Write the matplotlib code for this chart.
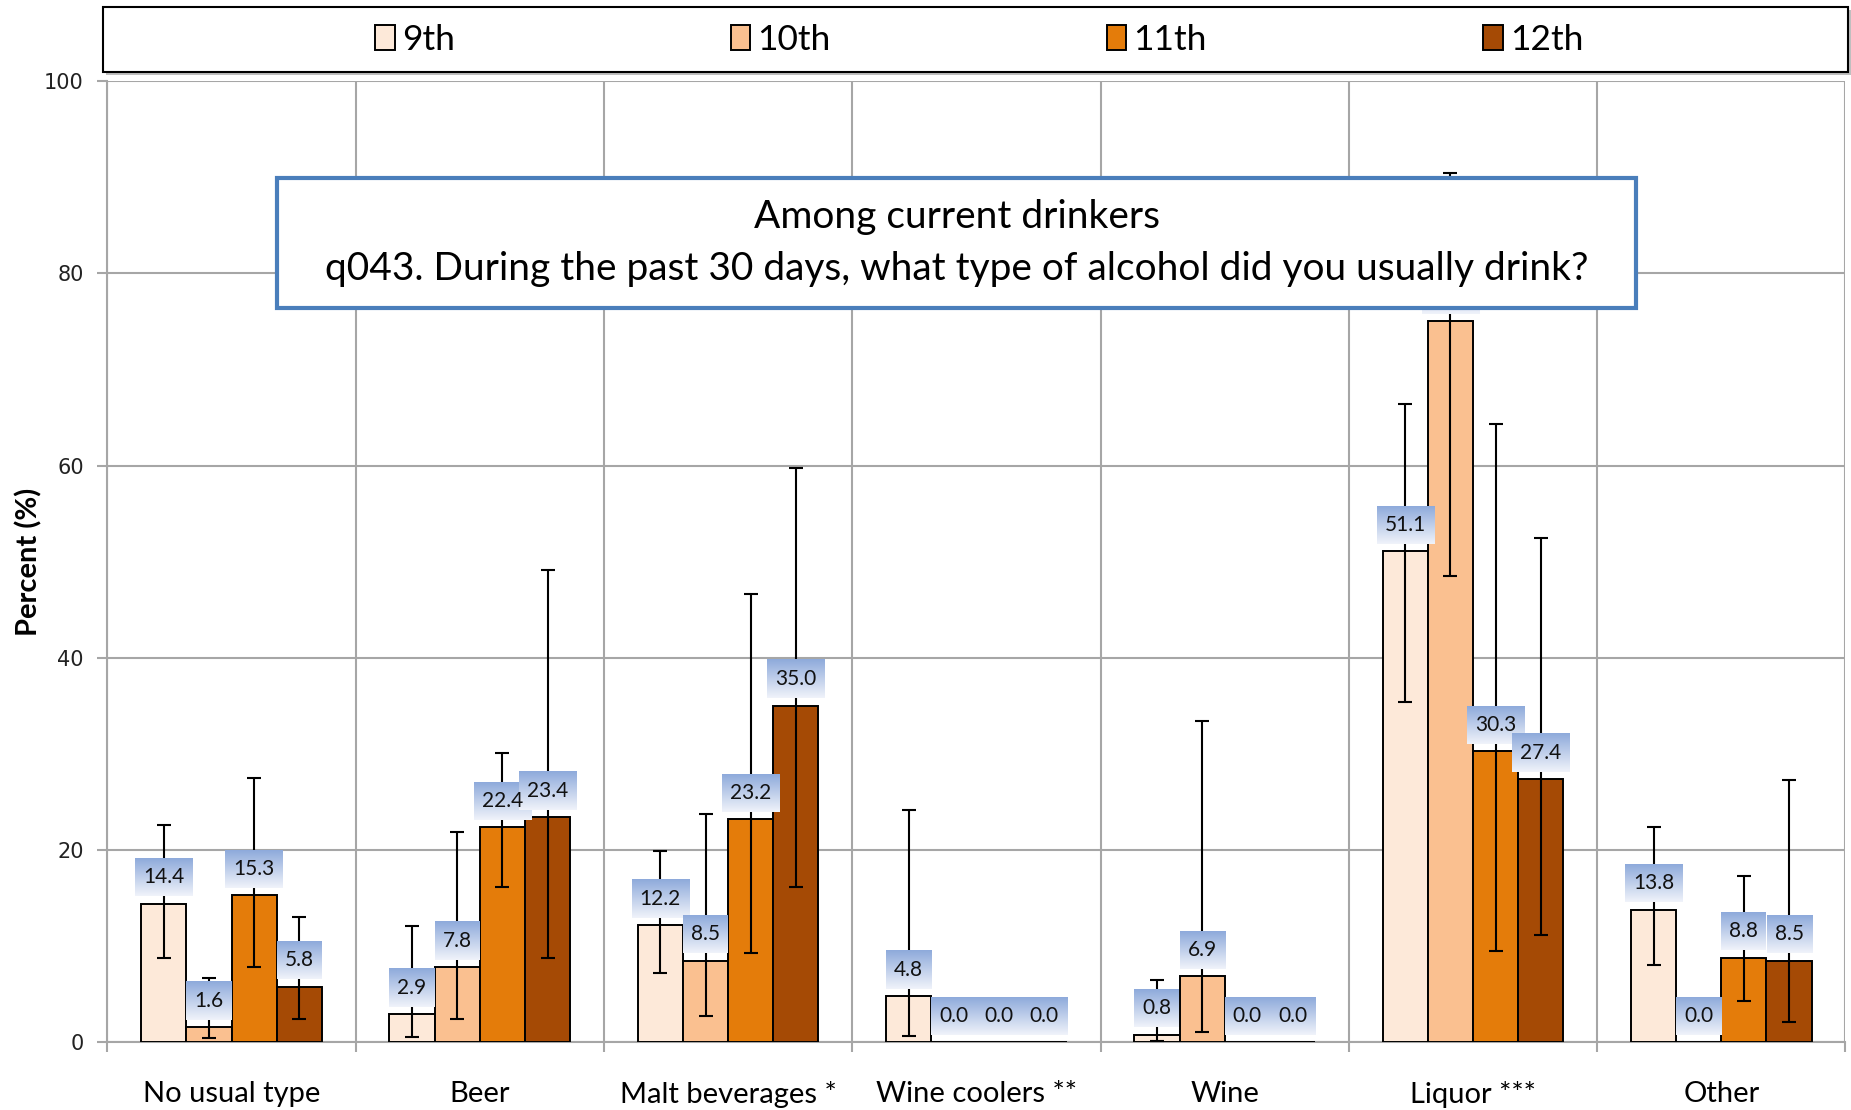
import numpy as np
import matplotlib
matplotlib.use("Agg")
import matplotlib.pyplot as plt
from matplotlib.patches import Rectangle

categories = ["No usual type", "Beer", "Malt beverages *", "Wine coolers **", "Wine", "Liquor ***", "Other"]
grades = ["9th", "10th", "11th", "12th"]

# percent per grade, one value per category
pct_9th = [14.4, 2.9, 12.2, 4.8, 0.8, 51.1, 13.8]
pct_10th = [1.6, 7.8, 8.5, 0.0, 6.9, 75.0, 0.0]
pct_11th = [15.3, 22.4, 23.2, 0.0, 0.0, 30.3, 8.8]
pct_12th = [5.8, 23.4, 35.0, 0.0, 0.0, 27.4, 8.5]

# 95% confidence limits (lower, upper)
lo_9th = [8.8, 0.6, 7.2, 0.7, 0.1, 35.4, 8.0]
hi_9th = [22.6, 12.1, 19.9, 24.2, 6.5, 66.4, 22.4]
lo_10th = [0.4, 2.4, 2.7, 0.0, 1.1, 48.5, 0.0]
hi_10th = [6.7, 21.9, 23.8, 0.0, 33.4, 90.4, 0.0]
lo_11th = [7.8, 16.2, 9.3, 0.0, 0.0, 9.5, 4.3]
hi_11th = [27.5, 30.1, 46.6, 0.0, 0.0, 64.3, 17.3]
lo_12th = [2.4, 8.8, 16.2, 0.0, 0.0, 11.2, 2.1]
hi_12th = [13.0, 49.1, 59.7, 0.0, 0.0, 52.5, 27.3]

title_lines = ["Among current drinkers",
               "q043. During the past 30 days, what type of alcohol did you usually drink?"]

colors = ["#fde9d9", "#fac090", "#e47c0a", "#a54a05"]
grid_col = "#a6a6a6"
txt_font = ["Lato", "DejaVu Sans"]

values = [pct_9th, pct_10th, pct_11th, pct_12th]
lows = [lo_9th, lo_10th, lo_11th, lo_12th]
highs = [hi_9th, hi_10th, hi_11th, hi_12th]

fig = plt.figure(figsize=(18.51, 11.10), dpi=100)
ax = fig.add_axes([0.058, 0.061, 0.939, 0.866])

x = np.arange(len(categories))
width = 0.182
handles = []
labels_txt = []
for i, (vals, lo, hi) in enumerate(zip(values, lows, highs)):
    pos = x + (i - 1.5) * width
    vals = np.array(vals)
    bars = ax.bar(pos, vals, width, color=colors[i], edgecolor="black", linewidth=1.4, zorder=3)
    handles.append(bars)
    has_ci = np.array(hi) > 0
    yerr = np.vstack([vals - np.array(lo), np.array(hi) - vals])
    ax.errorbar(pos[has_ci], vals[has_ci], yerr=yerr[:, has_ci], fmt="none", ecolor="black",
                elinewidth=1.5, capsize=5, capthick=1.5, zorder=4)
    for px, v in zip(pos, vals):
        t = ax.annotate(f"{v:.1f}", (px, v), xytext=(0, 19), textcoords="offset points",
                        ha="center", va="center", fontsize=15, family=txt_font,
                        color="#111111", zorder=6)
        labels_txt.append(t)

ax.set_xlim(-0.5, len(categories) - 0.5)
ax.set_ylim(0, 100)
ax.set_yticks([0, 20, 40, 60, 80, 100])
ax.set_xticks(x)
ax.set_xticklabels(categories, fontsize=21, family=txt_font)
ax.set_xticks(np.arange(len(categories) + 1) - 0.5, minor=True)
ax.tick_params(axis="x", which="major", length=0, pad=28)
ax.tick_params(axis="x", which="minor", length=7, width=1.5, color=grid_col)
ax.tick_params(axis="y", length=7, width=1.5, color=grid_col, pad=10, labelsize=15, labelcolor="#222222")
ax.grid(True, which="minor", axis="x", color=grid_col, linewidth=1.5, zorder=0)
ax.grid(True, which="major", axis="y", color=grid_col, linewidth=1.5, zorder=0)
ax.set_axisbelow(True)
for s in ["top", "right"]:
    ax.spines[s].set_visible(False)
for s in ["left", "bottom"]:
    ax.spines[s].set_color(grid_col)
    ax.spines[s].set_linewidth(1.5)
ax.set_ylabel("Percent (%)", fontsize=21, fontweight="bold", family=txt_font, labelpad=1)

# gradient boxes behind the value labels
fig.canvas.draw()
renderer = fig.canvas.get_renderer()
grad = np.linspace(0, 1, 64).reshape(-1, 1)
top_c = np.array([0x8e, 0xaa, 0xdb]) / 255
bot_c = np.array([0xf0, 0xf3, 0xfa]) / 255
grad_img = (top_c[None, None, :] * (1 - grad[:, :, None]) + bot_c[None, None, :] * grad[:, :, None])
inv = ax.transData.inverted()
for t in labels_txt:
    bb = t.get_window_extent(renderer)
    cx = (bb.x0 + bb.x1) / 2
    cy = (bb.y0 + bb.y1) / 2
    w = bb.width + 16
    h = 38
    (x0, y0) = inv.transform((cx - w / 2, cy - h / 2))
    (x1, y1) = inv.transform((cx + w / 2, cy + h / 2))
    ax.imshow(grad_img, extent=[x0, x1, y0, y1], aspect="auto", zorder=5, origin="upper")
ax.set_xlim(-0.5, len(categories) - 0.5)
ax.set_ylim(0, 100)

# question box
fig.patches.append(Rectangle((277 / 1851, 1 - 308 / 1110), (1636 - 277) / 1851, 130 / 1110,
                             transform=fig.transFigure, facecolor="white", edgecolor="#4a7ebb",
                             linewidth=3, zorder=10))
fig.text((277 + 1636) / 2 / 1851, 1 - 243 / 1110, "\n".join(title_lines), ha="center", va="center",
         fontsize=28, family=txt_font, linespacing=1.55, zorder=11)

# legend box with shadow
fig.patches.append(Rectangle((106 / 1851, 1 - 75 / 1110), 1745 / 1851, 65 / 1110, transform=fig.transFigure,
                             facecolor="#bfbfbf", edgecolor="none", zorder=8))
fig.patches.append(Rectangle((103 / 1851, 1 - 72 / 1110), 1745 / 1851, 65 / 1110, transform=fig.transFigure,
                             facecolor="white", edgecolor="black", linewidth=1.5, zorder=9))
fig.legend(handles, grades, loc="center", bbox_to_anchor=(0.529, 1 - 39.5 / 1110), ncol=4, frameon=False,
           prop={"family": txt_font, "size": 25.5}, handlelength=0.55, handleheight=0.7,
           handletextpad=0.2, columnspacing=7.8).set_zorder(12)

fig.savefig("out.png", dpi=100)
